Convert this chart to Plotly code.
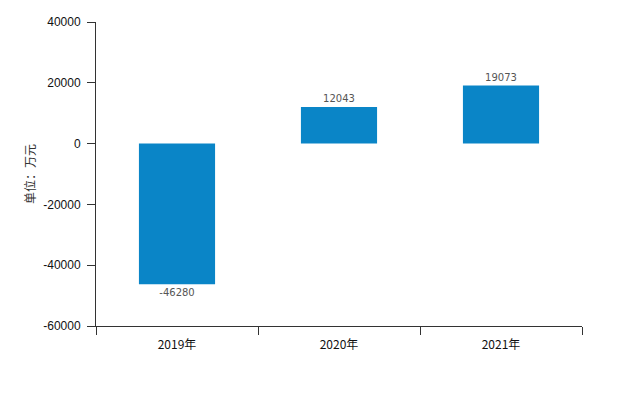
import plotly.graph_objects as go

categories = ["2019年", "2020年", "2021年"]
values = [-46280, 12043, 19073]
y_ticks = [-60000, -40000, -20000, 0, 20000, 40000]

bar_color = "#0A85C7"

fig = go.Figure()
fig.add_trace(go.Bar(
    x=categories,
    y=values,
    width=0.47,
    marker=dict(color=bar_color, line=dict(width=0)),
    text=[str(v) for v in values],
    textposition="outside",
    cliponaxis=False,
    textfont=dict(family="DejaVu Sans, sans-serif", size=10, color="#555555"),
))

fig.update_layout(
    width=640,
    height=395,
    margin=dict(l=88, r=66, t=14, b=77, autoexpand=False),
    paper_bgcolor="white",
    plot_bgcolor="white",
    showlegend=False,
    font=dict(family="Liberation Sans, Arial, sans-serif", size=12, color="#111111"),
)

fig.update_xaxes(
    type="category",
    range=[-0.5, 2.5],
    showline=True,
    linecolor="#333333",
    linewidth=1,
    ticks="outside",
    tickson="boundaries",
    ticklen=8,
    tickcolor="#333333",
    ticklabelstandoff=8,
    showgrid=False,
    zeroline=False,
    tickfont=dict(family="Noto Sans CJK SC, sans-serif", size=12, color="#111111"),
)

fig.update_yaxes(
    range=[-60000, 40000],
    tickvals=y_ticks,
    ticktext=[str(v) for v in y_ticks],
    showline=True,
    linecolor="#333333",
    linewidth=1,
    ticks="outside",
    ticklen=8,
    tickcolor="#333333",
    ticklabelstandoff=4,
    showgrid=False,
    zeroline=False,
    tickfont=dict(family="Liberation Sans, Arial, sans-serif", size=12, color="#111111"),
    title=dict(text="单位：万元", font=dict(family="Noto Sans CJK SC, sans-serif", size=12, color="#333333"), standoff=5),
)

fig.write_html("out.html")
